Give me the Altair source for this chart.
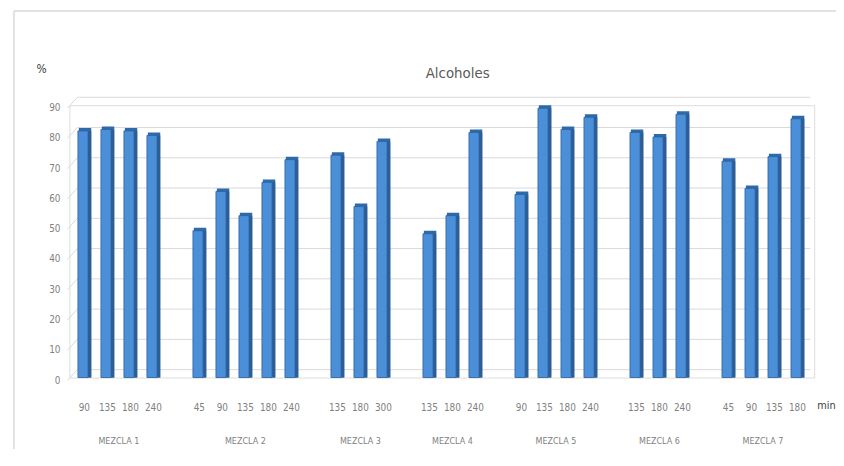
import altair as alt
import pandas as pd

groups = ["MEZCLA 1", "MEZCLA 2", "MEZCLA 3", "MEZCLA 4", "MEZCLA 5", "MEZCLA 6", "MEZCLA 7"]
minutes = [
    ["90", "135", "180", "240"],
    ["45", "90", "135", "180", "240"],
    ["135", "180", "300"],
    ["135", "180", "240"],
    ["90", "135", "180", "240"],
    ["135", "180", "240"],
    ["45", "90", "135", "180"],
]
values = [
    [81.5, 82, 81.5, 80],
    [48.5, 61.5, 53.5, 64.5, 72],
    [73.5, 56.5, 78],
    [47.5, 53.5, 81],
    [60.5, 89, 82, 86],
    [81, 79.5, 87],
    [71.5, 62.5, 73, 85.5],
]
y_ticks = [0, 10, 20, 30, 40, 50, 60, 70, 80, 90]

rows = []
slot = 0
for g, ms, vs in zip(groups, minutes, values):
    for m, v in zip(ms, vs):
        rows.append({"group": g, "minute": m, "value": v, "slot": slot})
        slot += 1
    slot += 1  # empty slot between groups
df = pd.DataFrame(rows)
grid_df = pd.DataFrame({"tick": y_ticks})
one = pd.DataFrame({"a": [0]})

W, H = 752, 275
FONT = "DejaVu Sans Condensed, DejaVu Sans, sans-serif"
GRAY = "#7f7f7f"

xs = alt.Scale(domain=[-0.65, 31.73], nice=False, zero=False)
ys = alt.Scale(domain=[0, 90], nice=False)

base = alt.Chart(df)

grid = alt.Chart(grid_df).mark_rule(color="#d9d9d9", strokeWidth=1, yOffset=-8).encode(
    x=alt.value(8), x2=alt.value(W - 4),
    y=alt.Y("tick:Q", scale=ys, axis=None),
)
slant = alt.Chart(grid_df).mark_rule(color="#d9d9d9", strokeWidth=1, yOffset=3, y2Offset=-8).encode(
    x=alt.value(-2), x2=alt.value(8),
    y=alt.Y("tick:Q", scale=ys, axis=None), y2="tick:Q",
)
ylabels = alt.Chart(grid_df).mark_text(font=FONT, fontSize=10, color=GRAY, align="right",
                                       baseline="middle", dy=3).encode(
    x=alt.value(-9),
    y=alt.Y("tick:Q", scale=ys, axis=None),
    text="tick:Q",
)

def bars(lo, hi, **kw):
    return base.transform_calculate(
        xl=f"datum.slot + ({lo})", xr=f"datum.slot + ({hi})"
    ).mark_rect(**kw).encode(
        x=alt.X("xl:Q", scale=xs, axis=None), x2="xr:Q",
        y=alt.Y("value:Q", scale=ys, axis=None), y2=alt.datum(0),
    )

cap = bars(-0.24, 0.3, color="#2f6aa8", yOffset=-3)
side = bars(0.14, 0.3, color="#2c5d94")
front = bars(-0.28, 0.16, color="#4a8fd8", stroke="#2f62a0", strokeWidth=0.8)

min_labels = base.mark_text(font=FONT, fontSize=10, color=GRAY, baseline="middle").encode(
    x=alt.X("slot:Q", scale=xs, axis=None),
    y=alt.value(H + 31),
    text="minute:N",
)
group_labels = base.transform_aggregate(
    pos="mean(slot)", groupby=["group"]
).mark_text(font=FONT, fontSize=9, color=GRAY, baseline="middle").encode(
    x=alt.X("pos:Q", scale=xs, axis=None),
    y=alt.value(H + 64),
    text="group:N",
)
min_text = alt.Chart(one).mark_text(font=FONT, fontSize=11, color="#404040", align="left",
                                    baseline="middle").encode(
    x=alt.value(W + 3), y=alt.value(H + 29), text=alt.value("min"))
pct_text = alt.Chart(one).mark_text(font=FONT, fontSize=12, color="#404040",
                                    baseline="middle").encode(
    x=alt.value(-28), y=alt.value(-37), text=alt.value("%"))
title = alt.Chart(one).mark_text(font=FONT, fontSize=15, color="#595959", baseline="middle").encode(
    x=alt.value(392), y=alt.value(-32), text=alt.value("Alcoholes"))
border_left = alt.Chart(one).mark_rule(color="#d9d9d9", strokeWidth=1.5).encode(
    x=alt.value(-56), y=alt.value(-95), y2=alt.value(H + 80))
border_top = alt.Chart(one).mark_rule(color="#d9d9d9", strokeWidth=1.5).encode(
    x=alt.value(-56), x2=alt.value(W + 30), y=alt.value(-95))

chart = alt.layer(
    border_left, border_top, grid, slant, ylabels, cap, side, front,
    min_labels, group_labels, min_text, pct_text, title
).properties(
    width=W, height=H,
    autosize=alt.AutoSizeParams(type="none"),
    padding={"left": 62, "top": 96, "right": 22, "bottom": 70},
).configure_view(stroke=None).configure(background="white")

chart.save("out.html", embed_options={"renderer": "svg", "actions": False})
